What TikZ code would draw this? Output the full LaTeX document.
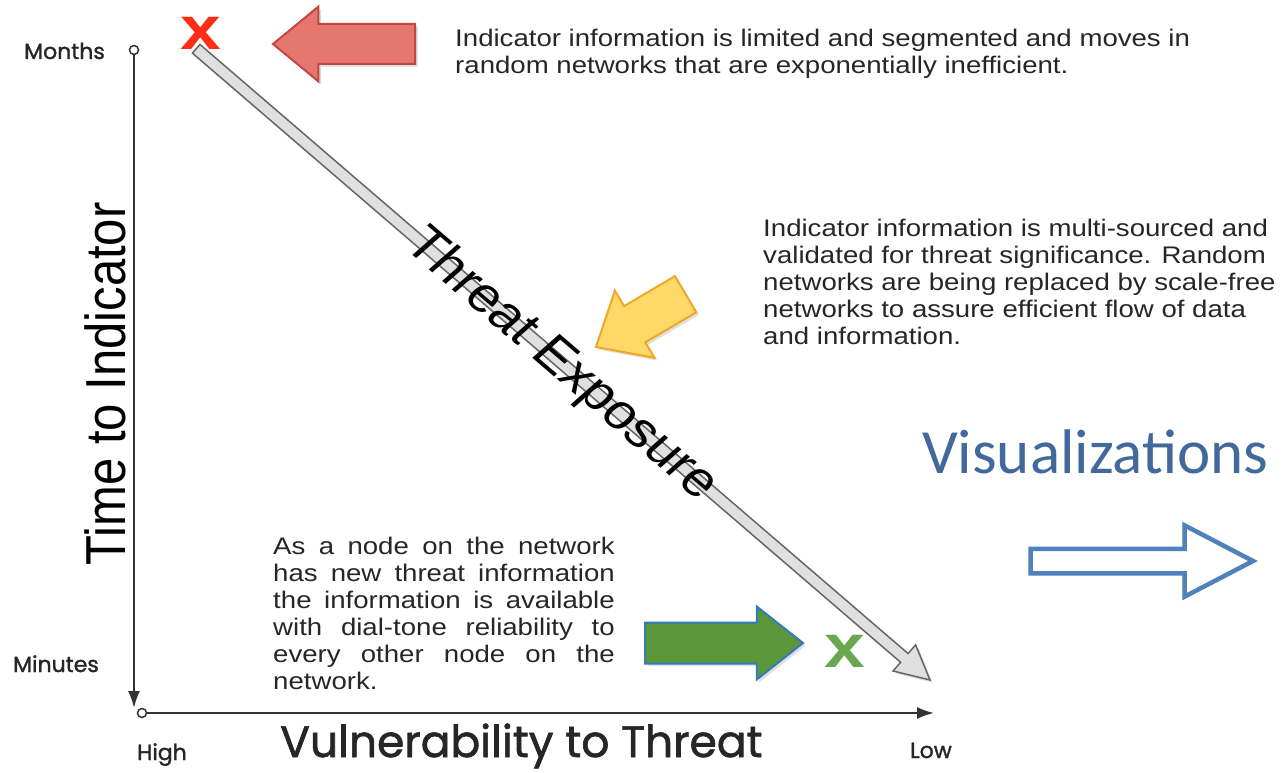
\documentclass[tikz,border=0pt]{standalone}
\usepackage{fontspec}
\setmainfont{Liberation Sans}
\newfontfamily\geofont[FakeBold=1.4]{Poppins}
\newfontfamily\slidefont{Carlito}
\usetikzlibrary{%
  arrows.meta,%
  shapes.arrows,% single arrow
  shadows%
}
\definecolor{redfill}{RGB}{230,118,112}
\definecolor{redline}{RGB}{196,72,66}
\definecolor{redcross}{RGB}{255,45,20}
\definecolor{yellowfill}{RGB}{255,216,104}
\definecolor{yellowline}{RGB}{238,168,40}
\definecolor{greenfill}{RGB}{92,150,58}
\definecolor{greenline}{RGB}{52,122,192}
\definecolor{greencross}{RGB}{106,168,79}
\definecolor{officeblue}{RGB}{79,129,189}
\definecolor{vizblue}{RGB}{65,105,155}

\begin{document}
\begin{tikzpicture}[x=1pt,y=-1pt,
	note/.style={
	font=\fontsize{24}{27}\selectfont,
	text=black!85,
	align=left,
	inner sep=0pt,
	xscale=1.15,
	anchor=north west
	},bigtext/.style={
	font=\fontsize{49}{49}\selectfont,
	inner sep=0pt,
	xscale=1.15
	},axislabel/.style={
	font=\geofont\fontsize{22}{22}\selectfont,
	text=black!85,
	inner sep=0pt,
	anchor=base west
	},cross/.style={
	font=\fontsize{61}{61}\selectfont\bfseries,
	inner sep=0pt,
	xscale=1.2
	},pointer/.style={
	single arrow,
	inner sep=0pt,
	outer sep=0pt,
	anchor=tip
	},dot/.style={
	circle,minimum size=9pt,inner sep=0pt,
	line width=1.5pt,draw=black!80,fill=white
	},axisline/.style={
	line width=2pt,draw=black!80,
	-{Latex[length=17pt,width=12pt]}
	}
]

\path[use as bounding box,fill=white] (0,0) rectangle (1288,773);

% Axes
\node (topdot) [dot] at (134,50) {};
\node (origindot) [dot] at (142,713) {};
\coordinate (yend) at (134,708);
\coordinate (xend) at (934,713);
\draw[axisline] (topdot) -- (yend);
\draw[axisline] (origindot) -- (xend);

\node (months) [axislabel] at (24,59) {Months};
\node (minutes) [axislabel] at (13,672) {Minutes};
\node (high) [axislabel] at (137,760) {High};
\node (low) [axislabel] at (910,758) {Low};
\node (xtitle) [axislabel,font=\geofont\fontsize{44}{44}\selectfont] at (280,757) {Vulnerability to Threat};
\node (ytitle) [bigtext,rotate=90,anchor=base] at (125,384) {Time to Indicator};

% Threat exposure
\node (exposure) [pointer,minimum height=968pt,inner ysep=5pt,
	single arrow head extend=11.5pt,single arrow tip angle=54,
	line width=1.5pt,draw=black!60,fill=black!12,
	rotate=-40.7,drop shadow={opacity=0.25}] at (930,680) {};
\node (exposurelabel) [bigtext,rotate=-44.6] at (561,365) {Threat Exposure};

% Markers
\node (redx) [cross,text=redcross] at (201,33) {x};
\node (greenx) [cross,text=greencross] at (845,651) {x};

\node (redarrow) [pointer,minimum height=142pt,inner ysep=19pt,
	single arrow head extend=17.5pt,single arrow tip angle=79,
	line width=2pt,draw=redline,fill=redfill,
	rotate=180,drop shadow={opacity=0.3}] at (273,44) {};
\node (yellowarrow) [pointer,minimum height=104pt,inner ysep=20pt,
	single arrow head extend=18pt,single arrow tip angle=82,
	line width=2pt,draw=yellowline,fill=yellowfill,
	rotate=210.5,drop shadow={opacity=0.25}] at (596,347) {};
\node (greenarrow) [pointer,minimum height=158pt,inner ysep=19.5pt,
	single arrow head extend=16pt,single arrow tip angle=76.6,
	line width=2pt,draw=greenline,fill=greenfill,
	drop shadow={opacity=0.25}] at (803,643) {};

% Notes
\node (topnote) [note] at (455,29) {Indicator information is limited and segmented and moves in\\random networks that are exponentially inefficient.};
\node (midnote) [note] at (763,219) {Indicator information is multi-sourced and\\validated for threat significance. Random\\networks are being replaced by scale-free\\networks to assure efficient flow of data\\and information.};
\node (lownote) [note] at (273,537) {\makebox[297pt][s]{As a node on the network}\\
	\makebox[297pt][s]{has new threat information}\\
	\makebox[297pt][s]{the information is available}\\
	\makebox[297pt][s]{with dial-tone reliability to}\\
	\makebox[297pt][s]{every other node on the}\\
	network.};

% Visualizations
\node (viz) [font=\slidefont\fontsize{63}{63}\selectfont,text=vizblue,
	inner sep=0pt,anchor=base west] at (922,473) {Visualizations};
\node (vizarrow) [pointer,minimum height=222.5pt,inner ysep=10pt,
	single arrow head extend=23.3pt,single arrow tip angle=55,
	line width=4.5pt,draw=officeblue,fill=white] at (1253,561) {};

\end{tikzpicture}
\end{document}
